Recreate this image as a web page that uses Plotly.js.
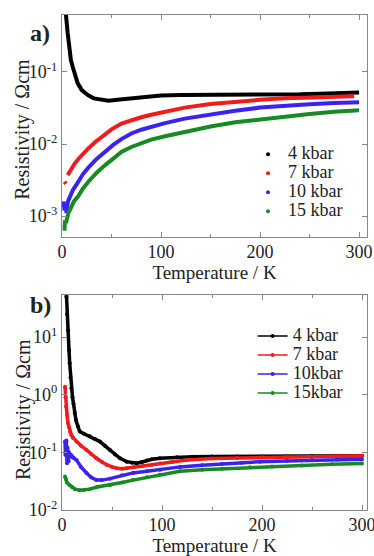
<!DOCTYPE html>
<html>
<head>
<meta charset="utf-8">
<script src="https://cdn.plot.ly/plotly-3.0.1.min.js"></script>
<style>html,body{margin:0;padding:0;background:#fff;}#chart{width:374px;height:556px;}</style>
</head>
<body>
<div id="chart"></div>
<script>
// ---------- Panel a data ----------
var aT4 = [3, 4, 5.7, 7.4, 9, 10.8, 13, 15.8, 20, 25.9, 32, 39, 47, 56, 65, 73, 85, 100, 120, 140, 160, 180, 200, 220, 240, 260, 280, 300];
var aR4 = [0.75, 0.62, 0.35, 0.20, 0.145, 0.118, 0.09, 0.070, 0.056, 0.048, 0.043, 0.041, 0.040, 0.041, 0.042, 0.043, 0.045, 0.047, 0.048, 0.048, 0.048, 0.048, 0.048, 0.049, 0.049, 0.050, 0.051, 0.052];
var aT7 = [2.5, 4, null, 5.7, 8, 10, 13, 17, 21, 26.6, 33, 40, 50, 60, 70, 80, 90, 104, 124, 150, 175, 200, 225, 250, 275, 295];
var aR7 = [0.0030, 0.0028, null, 0.0037, 0.0042, 0.0047, 0.0054, 0.0063, 0.0073, 0.0087, 0.0105, 0.0125, 0.0160, 0.0192, 0.0215, 0.0235, 0.0255, 0.028, 0.032, 0.036, 0.039, 0.041, 0.043, 0.044, 0.045, 0.046];
var aT10 = [1.5, 2.5, 3.5, 4.5, 6, 8, 11, 16.5, 21, 26.6, 35, 43.6, 52, 60.4, 70, 80, 90, 104, 124, 150, 175, 200, 225, 250, 275, 300];
var aR10 = [0.0016, 0.0012, 0.0015, 0.0011, 0.0016, 0.0019, 0.0023, 0.0030, 0.0038, 0.0047, 0.0062, 0.0078, 0.0098, 0.0118, 0.0140, 0.0158, 0.0173, 0.0195, 0.0225, 0.026, 0.029, 0.032, 0.034, 0.0355, 0.037, 0.038];
var aT15 = [2.5, 3, 4, 6.4, 9, 12, 16.5, 21, 26.6, 35, 43.6, 52, 60.4, 70, 80, 90, 104, 124, 150, 175, 200, 225, 250, 275, 300];
var aR15 = [0.00063, 0.00087, 0.0008, 0.0011, 0.0013, 0.0016, 0.0019, 0.0024, 0.0030, 0.0040, 0.0051, 0.0064, 0.0078, 0.0091, 0.0104, 0.0115, 0.0128, 0.0148, 0.0175, 0.020, 0.022, 0.024, 0.026, 0.028, 0.0295];

// ---------- Panel b data ----------
var bT4 = [4, 4.4, 5, 6, 7, 7.7, 8.5, 9.4, 10.5, 11.5, 12.7, 14, 16, 17.8, 22, 27.8, 33, 37.9, 43, 47.9, 53, 58, 64.7, 70, 74.7, 80, 84.7, 90, 98, 115, 130, 150, 175, 200, 225, 250, 275, 300];
var bR4 = [80, 50, 25, 13, 6, 3.5, 2.0, 1.3, 0.9, 0.7, 0.48, 0.36, 0.28, 0.23, 0.21, 0.19, 0.17, 0.154, 0.13, 0.11, 0.092, 0.079, 0.069, 0.066, 0.065, 0.068, 0.072, 0.076, 0.079, 0.082, 0.084, 0.085, 0.085, 0.085, 0.085, 0.086, 0.086, 0.087];
var bT7 = [3, 3.5, 4, 5, 6, 7, 8, 9.4, 11, 14.5, 19, 24.5, 29, 34.5, 40, 44.6, 50, 54.6, 60, 64.7, 72, 81, 90, 98, 110, 125, 150, 175, 200, 225, 250, 275, 300];
var bR7 = [1.38, 0.9, 0.62, 0.45, 0.32, 0.27, 0.23, 0.20, 0.18, 0.154, 0.13, 0.11, 0.094, 0.079, 0.068, 0.061, 0.056, 0.053, 0.052, 0.053, 0.055, 0.058, 0.061, 0.064, 0.068, 0.074, 0.078, 0.080, 0.082, 0.083, 0.084, 0.086, 0.087];
var bT10 = [3, 3.5, 4.4, 5, 5.5, 6.5, 7, 8, 9, 10.5, 12, 14.5, 19, 24.5, 29, 34.5, 40, 48, 60, 71, 85, 98, 118, 140, 160, 180, 198, 225, 250, 275, 300];
var bR10 = [0.155, 0.09, 0.16, 0.065, 0.12, 0.07, 0.10, 0.085, 0.09, 0.082, 0.079, 0.074, 0.056, 0.044, 0.037, 0.033, 0.033, 0.035, 0.040, 0.044, 0.047, 0.050, 0.056, 0.060, 0.063, 0.066, 0.069, 0.071, 0.073, 0.075, 0.076];
var bT15 = [3, 4, 5, 7.7, 10, 13, 17.8, 22, 27.8, 35, 48, 60, 71, 85, 98, 118, 140, 160, 188, 210, 240, 270, 300];
var bR15 = [0.038, 0.034, 0.030, 0.027, 0.025, 0.023, 0.022, 0.0222, 0.023, 0.025, 0.027, 0.030, 0.033, 0.037, 0.041, 0.047, 0.050, 0.052, 0.055, 0.057, 0.059, 0.062, 0.064];

var namesA = ['4 kbar', '7 kbar', '10 kbar', '15 kbar'];
var namesB = ['4 kbar', '7 kbar', '10kbar', '15kbar'];
var colors = ['#000000', '#ee1c1c', '#3a22f0', '#178a24'];

var yTickValsA = [0.001, 0.01, 0.1];
var yTickTextA = ['10<sup>-3</sup>', '10<sup>-2</sup>', '10<sup>-1</sup>'];
var yTickValsB = [0.01, 0.1, 1, 10];
var yTickTextB = ['10<sup>-2</sup>', '10<sup>-1</sup>', '10<sup>0</sup>', '10<sup>1</sup>'];
var xTickVals = [0, 100, 200, 300];
var xTitle = 'Temperature / K';
var yTitle = 'Resistivity / Ωcm';

var seriesA = [[aT4, aR4], [aT7, aR7], [aT10, aR10], [aT15, aR15]];
var seriesB = [[bT4, bR4], [bT7, bR7], [bT10, bR10], [bT15, bR15]];

var FAM = 'Liberation Serif';
var traces = [];
seriesA.forEach(function (s, i) {
  traces.push({x: s[0], y: s[1], xaxis: 'x', yaxis: 'y', mode: 'lines', connectgaps: false,
    line: {color: colors[i], width: 4}, showlegend: false, hoverinfo: 'skip'});
});
seriesB.forEach(function (s, i) {
  traces.push({x: s[0], y: s[1], xaxis: 'x2', yaxis: 'y2', mode: 'lines+markers',
    line: {color: colors[i], width: 3.5}, marker: {color: colors[i], size: 4}, showlegend: false, hoverinfo: 'skip'});
});
// legend entries (text drawn larger than the legend row-spacing font)
function big(n) { return '<span style="font-size:18px">' + n + '</span>'; }
namesA.forEach(function (n, i) {
  traces.push({x: [null], y: [null], xaxis: 'x', yaxis: 'y', mode: 'markers', name: big(n),
    marker: {color: colors[i], size: 4}, legend: 'legend'});
});
namesB.forEach(function (n, i) {
  traces.push({x: [null], y: [null], xaxis: 'x2', yaxis: 'y2', mode: 'lines+markers', name: big(n),
    line: {color: colors[i], width: 1.5}, marker: {color: colors[i], size: 4}, legend: 'legend2'});
});

function xax(anchor, rmax) {
  return {anchor: anchor, range: [0, rmax], tickmode: 'array', tickvals: xTickVals,
    ticks: 'inside', ticklen: 5, tickcolor: '#888', showline: true, linecolor: '#888', linewidth: 1.2,
    mirror: 'ticks', showgrid: false, zeroline: false, ticklabeloverflow: 'allow', ticklabelstandoff: -2,
    minor: {dtick: 50, tick0: 0, ticks: 'inside', ticklen: 3, tickcolor: '#888', showgrid: false},
    tickfont: {family: FAM, size: 18, color: '#222'},
    title: {text: xTitle, font: {family: FAM, size: 19, color: '#222'}, standoff: 3}};
}
function yax(anchor, domain, range, tv, tt) {
  return {anchor: anchor, domain: domain, type: 'log', range: range, tickmode: 'array', tickvals: tv, ticktext: tt,
    ticks: 'inside', ticklen: 5, tickcolor: '#888', showline: true, linecolor: '#888', linewidth: 1.2,
    mirror: 'ticks', showgrid: false, zeroline: false,
    tickfont: {family: FAM, size: 18, color: '#222'}};
}

var layout = {
  width: 374, height: 556,
  margin: {l: 62, r: 7, t: 15, b: 46},
  paper_bgcolor: '#fff', plot_bgcolor: '#fff',
  font: {family: FAM, color: '#222'},
  xaxis: xax('y', 308),
  yaxis: yax('x', [0.5515, 1], [-3.29, -0.21], yTickValsA, yTickTextA),
  xaxis2: xax('y2', 305),
  yaxis2: yax('x2', [0, 0.4343], [-2, 1.73], yTickValsB, yTickTextB),
  legend: {x: 0.61, y: 0.748, xanchor: 'left', yanchor: 'top', bgcolor: 'rgba(0,0,0,0)',
    font: {family: FAM, size: 12, color: '#222'}, tracegroupgap: 0, itemwidth: 30},
  legend2: {x: 0.625, y: 0.381, xanchor: 'left', yanchor: 'top', bgcolor: 'rgba(0,0,0,0)',
    font: {family: FAM, size: 12, color: '#222'}, tracegroupgap: 0, itemwidth: 30},
  annotations: [
    {text: '<b>a)</b>', xref: 'paper', yref: 'paper', x: -0.033, y: 0.964, xanchor: 'right', yanchor: 'middle',
      showarrow: false, font: {family: FAM, size: 24, color: '#222'}},
    {text: '<b>b)</b>', xref: 'paper', yref: 'paper', x: -0.03, y: 0.414, xanchor: 'right', yanchor: 'middle',
      showarrow: false, font: {family: FAM, size: 24, color: '#222'}},
    {text: yTitle, xref: 'paper', yref: 'paper', x: -0.128, y: 0.770, xanchor: 'center', yanchor: 'middle',
      textangle: -90, showarrow: false, font: {family: FAM, size: 20, color: '#222'}},
    {text: yTitle, xref: 'paper', yref: 'paper', x: -0.128, y: 0.204, xanchor: 'center', yanchor: 'middle',
      textangle: -90, showarrow: false, font: {family: FAM, size: 20, color: '#222'}}
  ],
  showlegend: true
};

Plotly.newPlot('chart', traces, layout, {displayModeBar: false, staticPlot: true});
</script>
</body>
</html>
